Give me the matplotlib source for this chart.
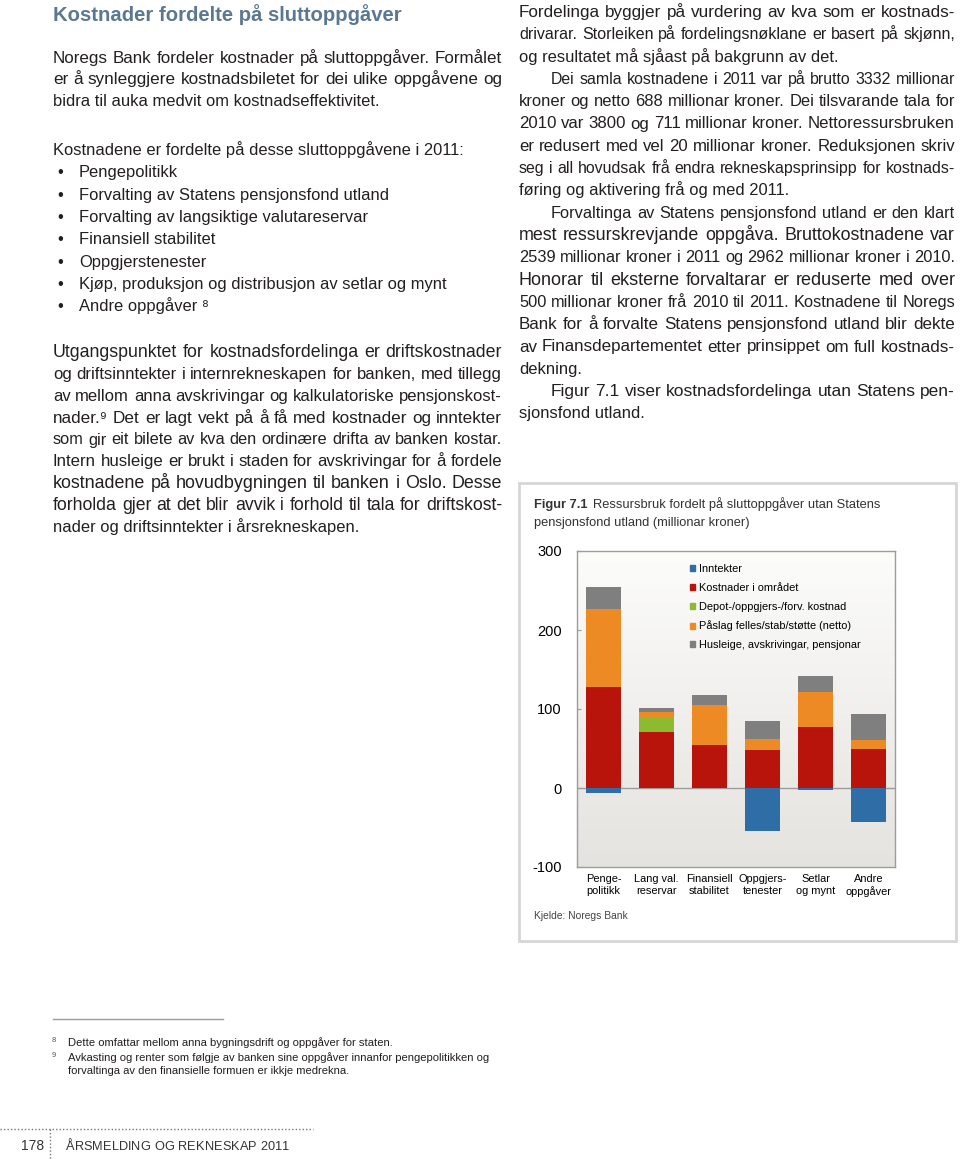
import numpy as np
import matplotlib
matplotlib.use('Agg')
from matplotlib import pyplot as plt
from matplotlib.patches import Rectangle, Patch
from matplotlib.colors import LinearSegmentedColormap

FONT = ['Liberation Sans', 'DejaVu Sans']
plt.rcParams['font.family'] = FONT
plt.rcParams['axes.unicode_minus'] = False

# chart data (millionar kroner)
categories = ['Penge-\npolitikk', 'Lang val.\nreservar', 'Finansiell\nstabilitet',
              'Oppgjers-\ntenester', 'Setlar\nog mynt', 'Andre\noppgåver']
inntekter = [-6, 0, 0, -54, -3, -43]
kostnader = [128, 71, 55, 48, 77, 50]
depot = [0, 19, 0, 0, 0, 0]
paslag = [98, 6, 50, 14, 45, 11]
husleige = [29, 5, 13, 23, 20, 33]
series_names = ['Inntekter', 'Kostnader i området', 'Depot-/oppgjers-/forv. kostnad',
                'Påslag felles/stab/støtte (netto)', 'Husleige, avskrivingar, pensjonar']
yticks = [-100, 0, 100, 200, 300]

title = 'Kostnader fordelte på sluttoppgåver'
left_p1 = ['Noregs Bank fordeler kostnader på sluttoppgåver. Formålet',
           'er å synleggjere kostnadsbiletet for dei ulike oppgåvene og',
           'bidra til auka medvit om kostnadseffektivitet.']
left_p2 = 'Kostnadene er fordelte på desse sluttoppgåvene i 2011:'
bullets = ['Pengepolitikk', 'Forvalting av Statens pensjonsfond utland',
           'Forvalting av langsiktige valutareservar', 'Finansiell stabilitet',
           'Oppgjerstenester', 'Kjøp, produksjon og distribusjon av setlar og mynt',
           'Andre oppgåver ⁸']
left_p3 = ['Utgangspunktet for kostnadsfordelinga er driftskostnader',
           'og driftsinntekter i internrekneskapen for banken, med tillegg',
           'av mellom anna avskrivingar og kalkulatoriske pensjonskost-',
           'nader.⁹ Det er lagt vekt på å få med kostnader og inntekter',
           'som gir eit bilete av kva den ordinære drifta av banken kostar.',
           'Intern husleige er brukt i staden for avskrivingar for å fordele',
           'kostnadene på hovudbygningen til banken i Oslo. Desse',
           'forholda gjer at det blir avvik i forhold til tala for driftskost-',
           'nader og driftsinntekter i årsrekneskapen.']
right_lines = ['Fordelinga byggjer på vurdering av kva som er kostnads-',
               'drivarar. Storleiken på fordelingsnøklane er basert på skjønn,',
               'og resultatet må sjåast på bakgrunn av det.',
               'Dei samla kostnadene i 2011 var på brutto 3332 millionar',
               'kroner og netto 688 millionar kroner. Dei tilsvarande tala for',
               '2010 var 3800 og 711 millionar kroner. Nettoressursbruken',
               'er redusert med vel 20 millionar kroner. Reduksjonen skriv',
               'seg i all hovudsak frå endra rekneskapsprinsipp for kostnads-',
               'føring og aktivering frå og med 2011.',
               'Forvaltinga av Statens pensjonsfond utland er den klart',
               'mest ressurskrevjande oppgåva. Bruttokostnadene var',
               '2539 millionar kroner i 2011 og 2962 millionar kroner i 2010.',
               'Honorar til eksterne forvaltarar er reduserte med over',
               '500 millionar kroner frå 2010 til 2011. Kostnadene til Noregs',
               'Bank for å forvalte Statens pensjonsfond utland blir dekte',
               'av Finansdepartementet etter prinsippet om full kostnads-',
               'dekning.',
               'Figur 7.1 viser kostnadsfordelinga utan Statens pen-',
               'sjonsfond utland.']
right_indent = [3, 9, 17]
right_last = [2, 8, 16, 18]
footnotes = [('8', ['Dette omfattar mellom anna bygningsdrift og oppgåver for staten.']),
             ('9', ['Avkasting og renter som følgje av banken sine oppgåver innanfor pengepolitikken og',
                    'forvaltinga av den finansielle formuen er ikkje medrekna.'])]

TXT = '#231f20'
fig = plt.figure(figsize=(9.6, 11.59), dpi=100)
page = fig.add_axes([0, 0, 1, 1])
page.set_xlim(0, 960)
page.set_ylim(1159, 0)
page.axis('off')
renderer = fig.canvas.get_renderer()


def width_of(s, size, **kw):
    t = page.text(0, 0, s, fontsize=size, **kw)
    w = t.get_window_extent(renderer=renderer).width
    t.remove()
    return w


def put(x0, y, s, size, x1=None, **kw):
    kw.setdefault('color', TXT)
    if x1 is None:
        page.text(x0, y, s, fontsize=size, va='baseline', **kw)
        return
    # justified line: nudge the size a little, then spread the words
    r = (x1 - x0) / width_of(s, size)
    size = size * min(max(r, 0.9), 1.09)
    words = s.split(' ')
    widths = [width_of(w, size) for w in words]
    gap = (x1 - x0 - sum(widths)) / (len(words) - 1)
    x = x0
    for w, wd in zip(words, widths):
        page.text(x, y, w, fontsize=size, va='baseline', **kw)
        x += wd + gap


def tracked(x0, x1, y, s, size, **kw):
    sp = size * 100 / 72 * 0.278
    widths = [sp if c == ' ' else width_of(c, size) for c in s]
    gap = (x1 - x0 - sum(widths)) / (len(s) - 1)
    x = x0
    for c, wd in zip(s, widths):
        if c != ' ':
            page.text(x, y, c, fontsize=size, va='baseline', **kw)
        x += wd + gap


BODY = 11.9
LX0, LX1 = 53, 502
RX0, RX1 = 519, 955

# left column
page.text(LX0, 21, title, fontsize=14.6, fontweight='bold', color='#5b7893', va='baseline')
for i, s in enumerate(left_p1):
    put(LX0, 62.6 + i * 21.7, s, BODY, x1=None if i == len(left_p1) - 1 else LX1)
put(LX0, 155, left_p2, BODY)
for i, s in enumerate(bullets):
    y = 155 + (i + 1) * 22.3
    page.text(57, y, '•', fontsize=BODY, va='baseline', color=TXT)
    put(79, y, s, BODY)
for i, s in enumerate(left_p3):
    put(LX0, 357.3 + i * 21.8, s, BODY, x1=None if i == len(left_p3) - 1 else LX1)

# right column
for i, s in enumerate(right_lines):
    x0 = RX0 + 32 if i in right_indent else RX0
    put(x0, 17 + i * 22.3, s, BODY, x1=None if i in right_last else RX1)

# footnotes
page.plot([53, 223], [1019, 1019], color='#9a9a9a', lw=1)
fy = [1046, 1061, 1074]
k = 0
for num, lines in footnotes:
    page.text(52, fy[k] - 4, num, fontsize=5.5, color='#555555', va='baseline')
    for s in lines:
        put(68, fy[k], s, 8.1)
        k += 1

# page footer
page.plot([0, 313], [1128.5, 1128.5], color='#777777', lw=1, ls=(0, (1, 1.5)))
page.plot([50, 50], [1128.5, 1159], color='#777777', lw=1, ls=(0, (1, 1.5)))
page.text(21, 1150, '178', fontsize=10, color='#333333', va='baseline')
tracked(66, 289, 1150, 'ÅRSMELDING OG REKNESKAP 2011', 9.2, color='#333333')

# chart panel
page.add_patch(Rectangle((519, 483), 437, 458, facecolor='white', edgecolor='#d6d6d6', lw=2, zorder=0))
page.text(534, 508, 'Figur 7.1', fontsize=9.3, fontweight='bold', color='#333333', va='baseline')
page.text(593, 508, 'Ressursbruk fordelt på sluttoppgåver utan Statens', fontsize=9.3,
          color='#333333', va='baseline')
page.text(534, 526, 'pensjonsfond utland (millionar kroner)', fontsize=9.3, color='#333333', va='baseline')
page.text(534, 919, 'Kjelde: Noregs Bank', fontsize=7.4, color='#444444', va='baseline')

ax = fig.add_axes([577 / 960, (1159 - 867) / 1159, 318 / 960, 316 / 1159])
grad = LinearSegmentedColormap.from_list('bg', ['#fcfcfb', '#e5e3df'])
ax.imshow(np.linspace(0, 1, 256).reshape(-1, 1), cmap=grad, aspect='auto',
          extent=(-0.5, 5.5, -100, 300), origin='upper', zorder=0)
x = np.arange(len(categories))
kost = np.array(kostnader)
dep = np.array(depot)
pas = np.array(paslag)
cols = ['#2e6da6', '#b8140b', '#8cbb2f', '#ee8a24', '#7f7f7f']
w = 0.66
ax.axhline(0, color='#9c9c9c', lw=1, zorder=1)
ax.bar(x, inntekter, w, color=cols[0], zorder=2)
ax.bar(x, kost, w, color=cols[1], zorder=2)
ax.bar(x, dep, w, bottom=kost, color=cols[2], zorder=2)
ax.bar(x, pas, w, bottom=kost + dep, color=cols[3], zorder=2)
ax.bar(x, husleige, w, bottom=kost + dep + pas, color=cols[4], zorder=2)
ax.set_xlim(-0.5, 5.5)
ax.set_ylim(-100, 300)
ax.set_yticks(yticks)
ax.set_xticks(x)
ax.set_xticklabels(categories, fontsize=7.9, linespacing=1.3)
ax.tick_params(axis='x', length=0, pad=5)
ax.tick_params(axis='y', direction='in', length=3, color='#9c9c9c', labelsize=10.5, pad=11)
for sp in ax.spines.values():
    sp.set_color('#9c9c9c')
    sp.set_linewidth(1)
handles = [Patch(color=c) for c in cols]
ax.legend(handles, series_names, loc='upper left', bbox_to_anchor=(0.355, 0.958),
          frameon=False, fontsize=7.9, handlelength=0.45, handleheight=0.45,
          handletextpad=0.35, labelspacing=0.8, borderpad=0, borderaxespad=0)

fig.savefig('out.png', dpi=100)
